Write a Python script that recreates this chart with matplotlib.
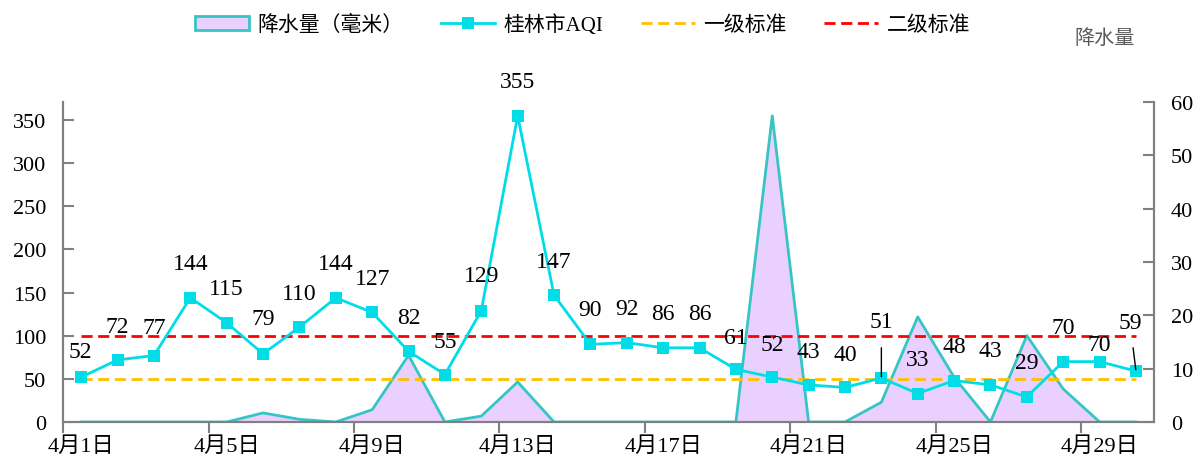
import matplotlib
matplotlib.use('Agg')
import matplotlib.pyplot as plt
from matplotlib.patches import Patch
from matplotlib.lines import Line2D

plt.rcParams['font.family'] = ['Liberation Serif', 'Noto Sans CJK SC']
plt.rcParams['axes.unicode_minus'] = False

days = list(range(1, 31))
date_labels = [f'4月{d}日' for d in days]
aqi = [52, 72, 77, 144, 115, 79, 110, 144, 127, 82,
       55, 129, 355, 147, 90, 92, 86, 86, 61, 52,
       43, 40, 51, 33, 48, 43, 29, 70, 70, 59]
rain = [0, 0, 0, 0, 0, 1.7, 0.5, 0, 2.3, 12.5,
        0, 1.1, 7.5, 0, 0, 0, 0, 0, 0, 57.4,
        0, 0, 3.7, 19.7, 8.4, 0, 16.2, 6.2, 0, 0]
level1 = 50
level2 = 100

# label offsets in pixels (dx, dy), mostly straight above the marker
label_off = [(-1, 26), (0, 33), (0, 28), (0, 34), (0, 34), (0, 35), (0, 34), (0, 34), (0, 34), (0, 34),
             (0, 33), (0, 35), (0, 34), (0, 34), (0, 35), (0, 34), (0, 34), (0, 34), (0, 32), (0, 33),
             (0, 33), (0, 33), (0, 56), (0, 34), (0, 34), (0, 34), (0, 34), (0, 34), (0, 17), (-6, 49)]
leader = {22, 29}

cyan = '#00dde6'
teal = '#35c6c4'
lilac = '#ead0ff'
gray = '#808080'
fs = 17
tfs = 16

fig = plt.figure(figsize=(11.96, 4.64), dpi=100)
ax = fig.add_axes([0.0527, 0.0884, 0.9123, 0.6896])
ax2 = ax.twinx()
ax.set_zorder(ax2.get_zorder() + 1)
ax.patch.set_visible(False)

# precipitation on the right axis
ax2.fill_between(days, rain, 0, color=lilac, lw=0)
ax2.plot(days, rain, color=teal, lw=2)
ax2.set_ylim(0, 60)
ax2.set_yticks([0, 10, 20, 30, 40, 50, 60])

# AQI + standards on the left axis
dash = (4.0, 2.0)
ax.plot([days[0], days[-1]], [level1, level1], color='#ffc000', lw=2, dashes=dash)
ax.plot([days[0], days[-1]], [level2, level2], color='#ff0000', lw=2, dashes=dash)
ax.plot(days, aqi, color=cyan, lw=2, marker='s', markersize=8.5, markeredgewidth=0)

for i, (d, v) in enumerate(zip(days, aqi)):
    dx, dy = label_off[i]
    if i in leader:
        ax.annotate(str(v), xy=(d, v), xytext=(dx, dy), textcoords='offset pixels',
                    ha='center', va='center', fontsize=fs,
                    arrowprops=dict(arrowstyle='-', color='black', lw=1, shrinkA=9, shrinkB=1))
    else:
        ax.annotate(str(v), xy=(d, v), xytext=(dx, dy), textcoords='offset pixels',
                    ha='center', va='center', fontsize=fs)

ax.set_xlim(0.5, 30.5)
ax.set_ylim(0, 371)
ax.set_yticks([0, 50, 100, 150, 200, 250, 300, 350])

ax.set_xticks(days[::4])
ax.set_xticklabels(date_labels[::4])
ax.set_xticks([d - 0.5 for d in days[::4]], minor=True)
ax.tick_params(axis='x', which='major', length=0, pad=10, labelsize=tfs)
ax.tick_params(axis='x', which='minor', length=8, width=1.5, color=gray, direction='out')
ax.tick_params(axis='y', direction='in', length=8, width=1.5, color=gray, labelsize=tfs, pad=12)
ax2.tick_params(axis='y', direction='in', length=8, width=1.5, color=gray, labelsize=tfs, pad=12)

for a in (ax, ax2):
    a.spines['top'].set_visible(False)
    for s in ('left', 'right', 'bottom'):
        a.spines[s].set_color(gray)
        a.spines[s].set_linewidth(1.5)

# legend across the top
handles = [
    Patch(facecolor=lilac, edgecolor=teal, lw=2),
    Line2D([], [], color=cyan, lw=2, marker='s', markersize=8.5, markeredgewidth=0),
    Line2D([], [], color='#ffc000', lw=2, dashes=dash),
    Line2D([], [], color='#ff0000', lw=2, dashes=dash),
]
labels = ['降水量（毫米）', '桂林市AQI', '一级标准', '二级标准']
fig.legend(handles, labels, loc='center', bbox_to_anchor=(0.487, 0.944), ncol=4,
           frameon=False, fontsize=15, handlelength=2.6, handletextpad=0.4,
           columnspacing=1.8)
fig.text(0.924, 0.914, '降水量', color='#595959', fontsize=14.5, ha='center', va='center')

fig.savefig('out.png', dpi=100)
